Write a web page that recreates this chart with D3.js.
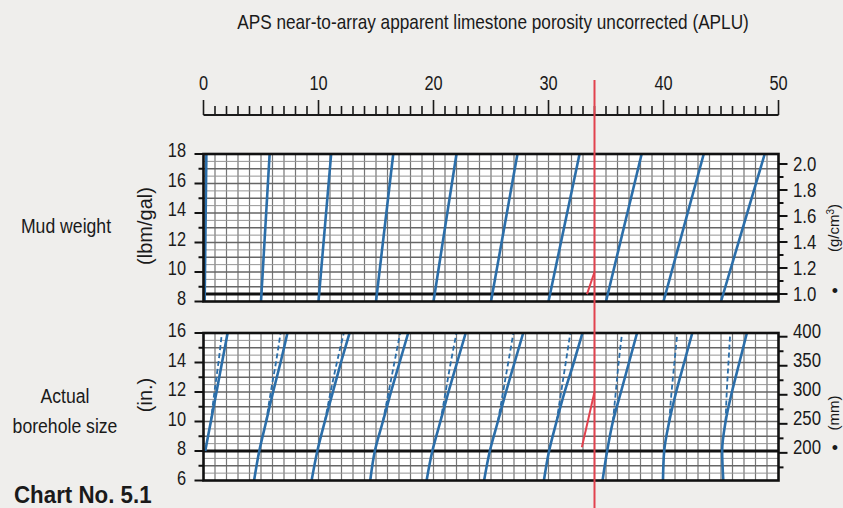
<!DOCTYPE html>
<html>
<head>
<meta charset="utf-8">
<script src="https://cdn.jsdelivr.net/npm/d3@7"></script>
<style>
    body { margin: 0; background: #efeeec; }
    svg { display: block; }
    text { font-family: "Liberation Sans", Arial, sans-serif; fill: #1a1a1a; }
</style>
</head>
<body>
<svg id="chart" width="843" height="508"></svg>
<script>
// porosity values where each mud weight line leaves the 8 lbm/gal edge, and where it reaches 18 lbm/gal
const mudStart = [0.1, 5, 10, 15, 20, 25, 30, 35, 40, 45]
const mudEnd = [0.25, 5.75, 11.1, 16.5, 22.0, 27.3, 32.7, 38.1, 43.5, 48.8]

// borehole size lines, porosity read at 6, 8, 10, 12, 14, 16 in.
const boreSizes = [6, 8, 10, 12, 14, 16]
const boreSolid = [
    [NaN, 0.15, 0.64, 1.13, 1.61, 2.1],
    [4.4, 4.85, 5.45, 6.05, 6.7, 7.3],
    [9.4, 9.9, 10.55, 11.25, 11.95, 12.7],
    [14.5, 14.9, 15.6, 16.3, 17.05, 17.8],
    [19.4, 19.9, 20.6, 21.3, 22.05, 22.8],
    [24.4, 24.9, 25.6, 26.3, 27.05, 27.8],
    [29.6, 30.05, 30.7, 31.4, 32.2, 32.95],
    [34.7, 35.1, 35.6, 36.3, 37.0, 37.7],
    [39.95, 40.06, 40.5, 41.1, 41.8, 42.5],
    [45.2, 45.1, 45.4, 45.95, 46.6, 47.25]
]
// dashed companions, read at 10, 12, 14, 16 in.
const dashSizes = [10, 12, 14, 16]
const boreDashed = [
    [0.64, 0.95, 1.3, 1.6],
    [5.45, 5.85, 6.3, 6.7],
    [10.55, 11.05, 11.6, 12.2],
    [15.6, 16.1, 16.6, 17.1],
    [20.6, 21.05, 21.5, 22.0],
    [25.6, 26.05, 26.5, 26.95],
    [30.7, 31.1, 31.5, 31.9],
    [35.6, 35.85, 36.1, 36.4],
    [40.5, 40.7, 40.95, 41.2],
    [45.4, 45.5, 45.65, 45.8]
]

// worked example
const examplePorosity = 34
const exampleMud = [[33.35, 8.5], [34, 10]]
const exampleBore = [[32.9, 8.25], [34, 12]]

const gccTicks = [1.0, 1.2, 1.4, 1.6, 1.8, 2.0]
const mmTicks = [200, 250, 300, 350, 400]

const svg = d3.select("#chart")

const x = d3.scaleLinear().domain([0, 50]).range([203.5, 778.5])
const yMud = d3.scaleLinear().domain([8, 18]).range([301.5, 154])
const yGcc = d3.scaleLinear().domain([1, 2]).range([294, 164])
const yBore = d3.scaleLinear().domain([6, 16]).range([480.5, 333])
const yMm = d3.scaleLinear().domain([6 * 25.4, 16 * 25.4]).range([480.5, 333])

const blue = "#2b6ea9"
const red = "#e2424e"

// condensed-looking text: squeeze horizontally
function label(g, px, py, txt, size, sx, anchor) {
    return g.append("text")
        .attr("transform", `translate(${px},${py}) scale(${sx},1)`)
        .attr("text-anchor", anchor || "start")
        .attr("font-size", size)
        .text(txt)
}

// title
label(svg, 493, 29, "APS near-to-array apparent limestone porosity uncorrected (APLU)", 21, 0.82, "middle")

// top scale
const topAxis = svg.append("g")
topAxis.append("line")
    .attr("x1", x(0)).attr("x2", x(50))
    .attr("y1", 115).attr("y2", 115)
    .attr("stroke", "#1a1a1a").attr("stroke-width", 2)
topAxis.selectAll(".tk")
    .data(d3.range(0, 51))
    .join("line")
    .attr("x1", d => x(d)).attr("x2", d => x(d))
    .attr("y1", 115).attr("y2", d => d % 10 === 0 ? 100 : 106)
    .attr("stroke", "#1a1a1a").attr("stroke-width", 1.6)
d3.range(0, 51, 10).forEach(d => label(topAxis, x(d), 90, d, 21, 0.78, "middle"))

function panel(yScale, lo, hi, thickY, dy) {
    const g = svg.append("g")
    g.append("rect")
        .attr("x", x(0)).attr("y", yScale(hi))
        .attr("width", x(50) - x(0)).attr("height", yScale(lo) - yScale(hi))
        .attr("fill", "#fff")
    g.selectAll(".vg")
        .data(d3.range(1, 50))
        .join("line")
        .attr("x1", d => x(d)).attr("x2", d => x(d))
        .attr("y1", yScale(hi)).attr("y2", yScale(lo))
        .attr("stroke", "#767676").attr("stroke-width", 1.2)
    g.selectAll(".hg")
        .data(d3.range(lo + 0.5, hi, 0.5))
        .join("line")
        .attr("x1", x(0)).attr("x2", x(50))
        .attr("y1", d => yScale(d)).attr("y2", d => yScale(d))
        .attr("stroke", d => d % 1 === 0 ? "#666" : "#959595")
        .attr("stroke-width", d => d % 1 === 0 ? 1.4 : 1)
    g.append("line")
        .attr("x1", x(0)).attr("x2", x(50))
        .attr("y1", thickY).attr("y2", thickY)
        .attr("stroke", "#111").attr("stroke-width", 3)
    // left ticks and labels
    g.selectAll(".lt")
        .data(d3.range(lo, hi + 1))
        .join("line")
        .attr("x1", x(0)).attr("x2", d => x(0) - (d % 2 === 0 ? 9 : 5))
        .attr("y1", d => yScale(d)).attr("y2", d => yScale(d))
        .attr("stroke", "#111").attr("stroke-width", 2)
    d3.range(lo, hi + 1, 2).forEach(d => label(g, 186, yScale(d) + dy, d, 21, 0.78, "end"))
    return g
}

const mudPanel = panel(yMud, 8, 18, yGcc(1), 3)
const borePanel = panel(yBore, 6, 16, yBore(8), 4)

// mud weight lines
const mudLines = mudStart.map((s, i) => [[s, 8], [mudEnd[i], 18]])
mudPanel.selectAll(".mud")
    .data(mudLines)
    .join("path")
    .attr("d", d3.line().x(d => x(d[0])).y(d => yMud(d[1])))
    .attr("fill", "none").attr("stroke", blue).attr("stroke-width", 2.6)

// borehole lines
const boreLine = d3.line()
    .defined(d => !isNaN(d[0]))
    .x(d => x(d[0])).y(d => yBore(d[1]))
    .curve(d3.curveMonotoneY)
borePanel.selectAll(".dash")
    .data(boreDashed.map(r => r.map((v, j) => [v, dashSizes[j]])))
    .join("path")
    .attr("d", boreLine)
    .attr("fill", "none").attr("stroke", blue).attr("stroke-width", 1.8)
    .attr("stroke-dasharray", "5,3")
borePanel.selectAll(".solid")
    .data(boreSolid.map(r => r.map((v, j) => [v, boreSizes[j]])))
    .join("path")
    .attr("d", boreLine)
    .attr("fill", "none").attr("stroke", blue).attr("stroke-width", 2.6)

// panel borders
;[[yMud, 8, 18], [yBore, 6, 16]].forEach(([ys, lo, hi]) => {
    svg.append("rect")
        .attr("x", x(0)).attr("y", ys(hi))
        .attr("width", x(50) - x(0)).attr("height", ys(lo) - ys(hi))
        .attr("fill", "none").attr("stroke", "#111").attr("stroke-width", 2.6)
})

// right axes
function rightAxis(scale, ticks, minor, fmt, offset) {
    const g = svg.append("g")
    g.selectAll(".mn")
        .data(minor)
        .join("line")
        .attr("x1", x(50)).attr("x2", x(50) + 5)
        .attr("y1", d => scale(d)).attr("y2", d => scale(d))
        .attr("stroke", "#111").attr("stroke-width", 2)
    g.selectAll(".mj")
        .data(ticks)
        .join("line")
        .attr("x1", x(50)).attr("x2", x(50) + 9)
        .attr("y1", d => scale(d)).attr("y2", d => scale(d))
        .attr("stroke", "#111").attr("stroke-width", 2)
    ticks.forEach(d => label(g, 793, scale(d) + offset, fmt(d), 21, 0.8))
}
rightAxis(yGcc, gccTicks, [1.1, 1.3, 1.5, 1.7, 1.9], d3.format(".1f"), 7)
rightAxis(yMm, mmTicks, [175, 225, 275, 325, 375], d => d, 1)

// worked example in red
svg.append("line")
    .attr("x1", x(examplePorosity)).attr("x2", x(examplePorosity))
    .attr("y1", 80).attr("y2", 508)
    .attr("stroke", red).attr("stroke-width", 2)
svg.append("path")
    .attr("d", d3.line().x(d => x(d[0])).y(d => yMud(d[1]))(exampleMud))
    .attr("fill", "none").attr("stroke", red).attr("stroke-width", 2)
svg.append("path")
    .attr("d", d3.line().x(d => x(d[0])).y(d => yBore(d[1]))(exampleBore))
    .attr("fill", "none").attr("stroke", red).attr("stroke-width", 2)

// left labels
label(svg, 66, 233, "Mud weight", 21, 0.84, "middle")
label(svg, 65, 403, "Actual", 21, 0.84, "middle")
label(svg, 65, 433, "borehole size", 21, 0.84, "middle")
svg.append("text").attr("transform", "translate(152,226) rotate(-90)").attr("text-anchor", "middle")
    .attr("font-size", 20).text("(lbm/gal)")
svg.append("text").attr("transform", "translate(152,395) rotate(-90)").attr("text-anchor", "middle")
    .attr("font-size", 20).text("(in.)")
label(svg, 14, 503, "Chart No. 5.1", 24, 0.93).attr("font-weight", 700)

// right unit labels
svg.append("text").attr("transform", "translate(839,228) rotate(-90)").attr("text-anchor", "middle")
    .attr("font-size", 15).html("(g/cm<tspan baseline-shift='super' font-size='10'>3</tspan>)")
svg.append("text").attr("transform", "translate(839,413) rotate(-90)").attr("text-anchor", "middle")
    .attr("font-size", 15).text("(mm)")
svg.append("text").attr("x", 835).attr("y", 297).attr("text-anchor", "middle")
    .attr("font-size", 18).text("•")
svg.append("text").attr("x", 835).attr("y", 454).attr("text-anchor", "middle")
    .attr("font-size", 18).text("•")
</script>
</body>
</html>
